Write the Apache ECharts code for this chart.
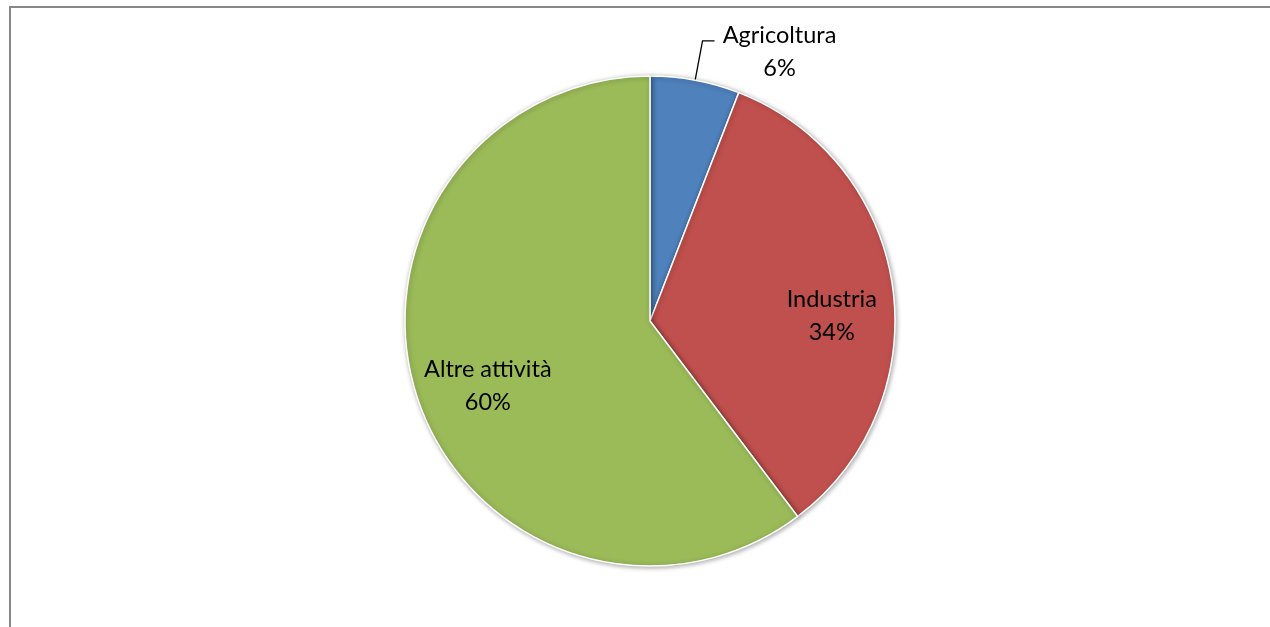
<!DOCTYPE html>
<html>
<head>
<meta charset="utf-8">
<script src="https://cdn.jsdelivr.net/npm/echarts@6/dist/echarts.min.js"></script>
<style>
html,body{margin:0;padding:0;background:#fff;}
#chart{width:1270px;height:627px;}
</style>
</head>
<body>
<div id="chart"></div>
<script>
const categories = ['Agricoltura', 'Industria', 'Altre attività'];
const values = [5.9, 33.8, 60.3];
const colors = ['#4F81BD', '#C0504D', '#9BBB59'];

// label nudges (style only)
const labelOffsets = [[0, 0], [4, 20], [8, 8]];

const FONT = 'Lato';
const FS = 23.5;
const chart = echarts.init(document.getElementById('chart'), null, {renderer: 'canvas'});

const mainData = categories.map((c, i) => ({
  name: c,
  value: values[i],
  itemStyle: {color: colors[i]},
  label: {show: i === 0},
  labelLine: {show: i === 0}
}));
const overlayData = categories.map((c, i) => ({
  name: c,
  value: values[i],
  label: {show: i !== 0, offset: labelOffsets[i]}
}));

chart.setOption({
  animation: false,
  graphic: [{
    type: 'rect',
    shape: {x: 10, y: 7, width: 1300, height: 700},
    style: {fill: 'none', stroke: '#878787', lineWidth: 2},
    silent: true
  }],
  series: [
    {
      type: 'pie',
      center: [650, 321],
      radius: [0, 245],
      startAngle: 90,
      clockwise: true,
      data: mainData,
      itemStyle: {borderColor: '#fff', borderWidth: 1.5, shadowBlur: 5, shadowColor: 'rgba(0,0,0,0.35)', shadowOffsetX: 1, shadowOffsetY: 1},
      label: {
        position: 'outside',
        formatter: p => '{a|' + p.name + '}\n{a|' + Math.round(p.percent) + '%}',
        padding: [22, 0, 0, 1],
        rich: {a: {fontFamily: FONT, fontSize: FS, color: '#000', width: 118, align: 'center', lineHeight: 33}}
      },
      labelLine: {length: 40, length2: 12, smooth: false, lineStyle: {color: '#000', width: 1.3}},
      emphasis: {disabled: true}
    },
    {
      type: 'pie',
      center: [650, 321],
      radius: [108, 245],
      startAngle: 90,
      clockwise: true,
      silent: true,
      data: overlayData,
      itemStyle: {color: 'rgba(0,0,0,0)', borderWidth: 0},
      label: {
        position: 'inside',
        formatter: p => p.name + '\n' + Math.round(p.percent) + '%',
        fontFamily: FONT, fontSize: FS, color: '#000', lineHeight: 33, align: 'center'
      },
      labelLine: {show: false},
      emphasis: {disabled: true}
    }
  ]
});
</script>
</body>
</html>
